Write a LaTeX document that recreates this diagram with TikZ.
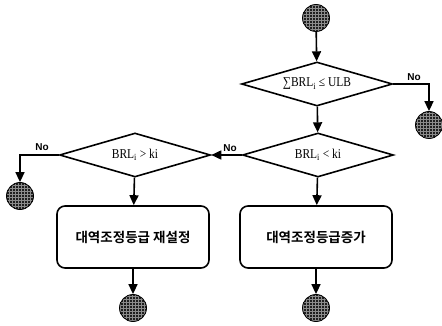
\documentclass[tikz,border=0pt]{standalone}
\usepackage{fontspec}
\setmainfont{Liberation Serif}
\newfontfamily\condfont{Liberation Serif}[FakeStretch=0.85]
\newfontfamily\krfont{Noto Sans CJK KR}[BoldFont={Noto Sans CJK KR Bold}]
\newfontfamily\labfont{Liberation Sans}
\usetikzlibrary{shapes.geometric,arrows.meta,patterns}
\begin{document}
\begin{tikzpicture}[x=1pt,y=-1pt,
  every path/.style={line width=1.5pt},
  term/.style={circle,draw=black,line width=0.8pt,minimum size=27pt,inner sep=0pt,
    preaction={fill=black!88},pattern=grid,pattern color=black!45},
  cond/.style={diamond,draw,line width=1.6pt,minimum width=151pt,minimum height=44pt,aspect=3.4,inner sep=0pt,font=\condfont\fontsize{13.5}{15}\selectfont},
  proc/.style={rectangle,rounded corners=8pt,draw,line width=1.6pt,minimum width=152pt,minimum height=62pt,font=\krfont\bfseries\fontsize{13.5}{15}\selectfont},
  arr/.style={-{Triangle[length=10pt,width=9pt]},line width=1.6pt},
  nolab/.style={font=\labfont\bfseries\fontsize{10}{12}\selectfont}
]
\useasboundingbox (0,0) rectangle (442,326);
\node[term] (s) at (316,18) {};
\node[cond] (d1) at (317,84) {∑BRL\textsubscript{i} ≤ ULB};
\node[cond] (d2) at (318,155) {BRL\textsubscript{i} < ki};
\node[cond] (d3) at (135,155) {BRL\textsubscript{i} > ki};
\node[term] (e1) at (429,125) {};
\node[term] (e2) at (20,196) {};
\node[proc] (p1) at (133,237) {대역조정등급 재설정};
\node[proc] (p2) at (316,237) {대역조정등급증가};
\node[term] (e3) at (133,308) {};
\node[term] (e4) at (316,308) {};
\coordinate (c1) at (429,84);
\coordinate (c2) at (20,155);
\draw[arr] (s) -- (d1);
\draw[arr] (d1.east) -- (c1) -- (e1);
\node[nolab] (n1) at (414,77) {No};
\draw[arr] (d1) -- (d2);
\draw[arr] (d2.west) -- (d3.east);
\node[nolab] (n2) at (230,148) {No};
\draw[arr] (d2) -- (p2);
\draw[arr] (p2) -- (e4);
\draw[arr] (d3.west) -- (c2) -- (e2);
\node[nolab] (n3) at (42,147) {No};
\draw[arr] (d3) -- (p1);
\draw[arr] (p1) -- (e3);
\end{tikzpicture}
\end{document}
